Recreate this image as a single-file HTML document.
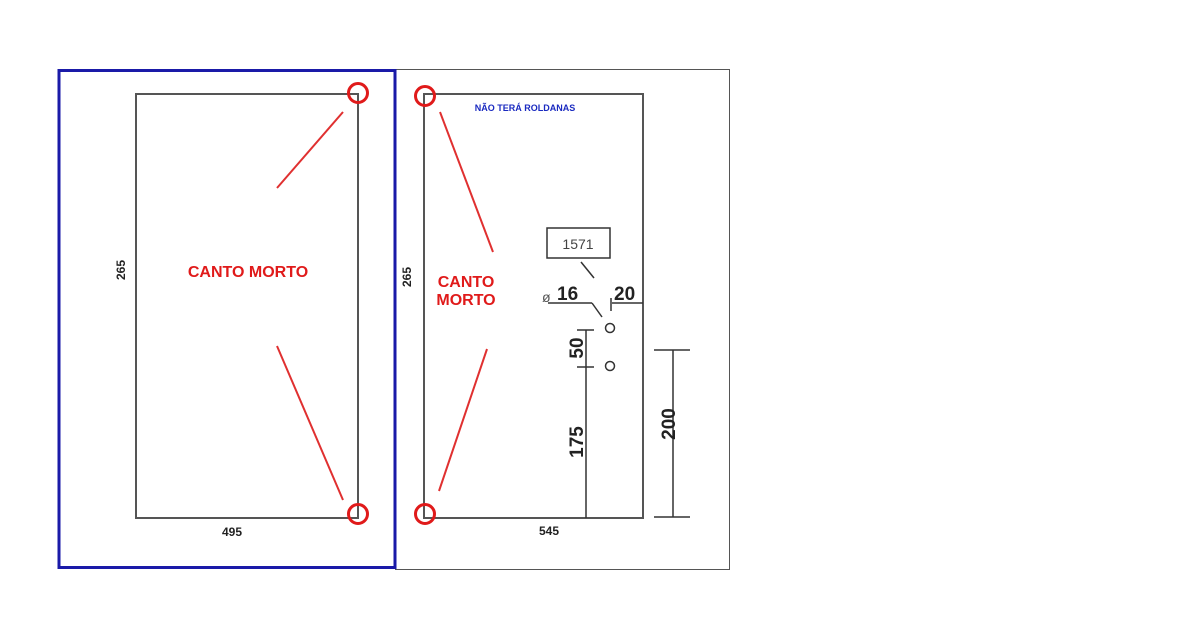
<!DOCTYPE html>
<html><head><meta charset="utf-8"><style>html,body{margin:0;padding:0;background:#fff;}svg{display:block}</style></head>
<body>
<svg width="1179" height="631" xmlns="http://www.w3.org/2000/svg" font-family="Liberation Sans, sans-serif" font-weight="bold">
<rect x="0" y="0" width="1179" height="631" fill="#fff"/>
<!-- right panel border -->
<rect x="395.5" y="69.5" width="334" height="500" fill="none" stroke="#555" stroke-width="1"/>
<!-- blue box -->
<rect x="59" y="70.5" width="336" height="497" fill="none" stroke="#1a1aa8" stroke-width="3"/>
<!-- left rect -->
<rect x="136" y="94" width="222" height="424" fill="none" stroke="#555" stroke-width="2"/>
<!-- right rect -->
<rect x="424" y="94" width="219" height="424" fill="none" stroke="#555" stroke-width="2"/>
<g fill="none" stroke="#e01a1a" stroke-width="3">
<circle cx="358" cy="93" r="9.5"/>
<circle cx="358" cy="514" r="9.5"/>
<circle cx="425" cy="96" r="9.5"/>
<circle cx="425" cy="514" r="9.5"/>
</g>
<g stroke="#e03030" stroke-width="2">
<line x1="343" y1="112" x2="277" y2="188"/>
<line x1="277" y1="346" x2="343" y2="500"/>
<line x1="440" y1="112" x2="493" y2="252"/>
<line x1="487" y1="349" x2="439" y2="491"/>
</g>
<text x="248" y="277" fill="#e01a1a" font-size="16" text-anchor="middle">CANTO MORTO</text>
<text x="466" y="287" fill="#e01a1a" font-size="16" text-anchor="middle">CANTO</text>
<text x="466" y="305" fill="#e01a1a" font-size="16" text-anchor="middle">MORTO</text>
<text transform="translate(125,270) rotate(-90)" font-size="12" text-anchor="middle" fill="#222">265</text>
<text transform="translate(411,277) rotate(-90)" font-size="12" text-anchor="middle" fill="#222">265</text>
<text x="232" y="536" font-size="12" text-anchor="middle" fill="#222">495</text>
<text x="549" y="535" font-size="12" text-anchor="middle" fill="#222">545</text>
<text x="525" y="111" font-size="9" text-anchor="middle" fill="#1a2ac0">NÃO TERÁ ROLDANAS</text>
<!-- 1571 box -->
<rect x="547" y="228" width="63" height="30" fill="#fff" stroke="#333" stroke-width="1.5"/>
<text x="578" y="249" font-size="14" font-weight="normal" text-anchor="middle" fill="#444">1571</text>
<g stroke="#333" stroke-width="1.5" fill="none">
<line x1="581" y1="262" x2="594" y2="278"/>
<line x1="548" y1="303" x2="592" y2="303"/>
<line x1="592" y1="303" x2="602" y2="317"/>
<line x1="611" y1="298" x2="611" y2="311"/>
<line x1="612" y1="303" x2="643" y2="303"/>
<circle cx="610" cy="328" r="4.5"/>
<circle cx="610" cy="366" r="4.5"/>
<line x1="586" y1="330" x2="586" y2="518"/>
<line x1="577" y1="330" x2="594" y2="330"/>
<line x1="577" y1="367" x2="594" y2="367"/>
<line x1="673" y1="350" x2="673" y2="517"/>
<line x1="654" y1="350" x2="690" y2="350"/>
<line x1="654" y1="517" x2="690" y2="517"/>
</g>
<text x="542" y="302" font-size="14" font-weight="normal" fill="#555">ø</text>
<text x="557" y="300" font-size="19" fill="#222">16</text>
<text x="614" y="300" font-size="19" fill="#222">20</text>
<text transform="translate(583,348) rotate(-90)" font-size="19" text-anchor="middle" fill="#222">50</text>
<text transform="translate(583,442) rotate(-90)" font-size="19" text-anchor="middle" fill="#222">175</text>
<text transform="translate(675,424) rotate(-90)" font-size="19" text-anchor="middle" fill="#222">200</text>
</svg>
</body></html>
